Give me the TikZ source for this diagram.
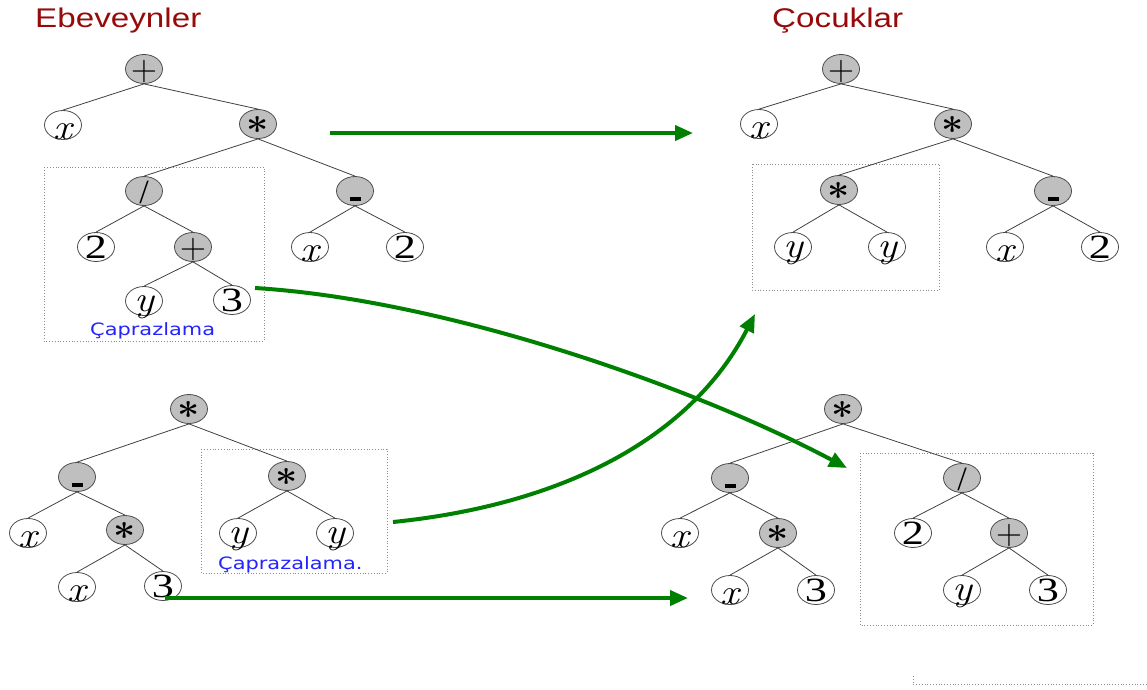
\documentclass[tikz,border=0pt]{standalone}
\usepackage{fontspec}
\usetikzlibrary{shapes.geometric,arrows.meta}
\newfontfamily\headfont{Liberation Sans}
\newfontfamily\notefont{DejaVu Sans}
\newfontfamily\digitfont{Liberation Serif}
\definecolor{headred}{RGB}{150,10,10}
\definecolor{noteblue}{RGB}{35,35,255}
\definecolor{arrowgreen}{RGB}{0,128,0}

% symbol placed inside a node without changing its size
\newcommand\symb[3]{\makebox[0pt]{\raisebox{#1}[0pt][0pt]{\scalebox{#2}[1]{#3}}}}
\newcommand\lx{\symb{-14pt}{1.15}{\fontsize{36}{36}\selectfont\itshape x}}
\newcommand\ly{\symb{-10.5pt}{1.15}{\fontsize{36}{36}\selectfont\itshape y}}
\newcommand\ltwo{\symb{-11.5pt}{1.3}{\fontsize{34}{34}\digitfont 2}}
\newcommand\lthree{\symb{-11.5pt}{1.3}{\fontsize{34}{34}\digitfont 3}}
\newcommand\opadd{\symb{-11pt}{1}{\fontsize{36}{36}\selectfont +}}
\newcommand\opmul{\symb{-19pt}{1.1}{\fontsize{36}{36}\selectfont\bfseries *}}
\newcommand\opdiv{\symb{-12pt}{1}{\fontsize{34}{34}\digitfont /}}
\newcommand\opsub{\symb{0pt}{1}{\rule[-10pt]{11pt}{4.5pt}}}

\tikzset{
  opnode/.style={ellipse, draw=black!70, fill=black!25, line width=0.8pt,
    minimum width=37pt, minimum height=29pt, inner sep=0pt},
  leafnode/.style={ellipse, draw=black!70, fill=white, line width=0.8pt,
    minimum width=37pt, minimum height=29pt, inner sep=0pt},
  link/.style={draw=black!75, line width=0.8pt},
  pickbox/.style={draw=black!45, dotted, line width=0.8pt},
  xover/.style={draw=arrowgreen, line width=4pt,
    -{Triangle[length=18pt,width=15pt]}},
  headline/.style={anchor=base west, text=headred, inner sep=0pt,
    font=\headfont\fontsize{27}{27}\selectfont},
  noteline/.style={anchor=base west, text=noteblue, inner sep=0pt,
    font=\notefont\fontsize{17}{17}\selectfont},
}

\begin{document}
\begin{tikzpicture}[x=1pt,y=-1pt]
\useasboundingbox (0,0) rectangle (1147,689);

% headings
\node[headline] (h1) at (35,27) {\scalebox{1.23}[1]{Ebeveynler}};
\node[headline] (h2) at (772,27) {\scalebox{1.23}[1]{Çocuklar}};

% selected subtrees
\draw[pickbox] (44,167) rectangle (264,341);
\draw[pickbox] (201,449) rectangle (387,573);
\draw[pickbox] (752,164) rectangle (939,290);
\draw[pickbox] (860,453) rectangle (1093,625);
\draw[pickbox] (913,676) -- (913,684) -- (1147,684);

\node[noteline] (n1) at (90,335) {\scalebox{1.23}[1]{Çaprazlama}};
\node[noteline] (n2) at (218,569) {\scalebox{1.23}[1]{Çaprazalama.}};

% first parent
\node[opnode]   (a0)  at (144,69)  {\opadd};
\node[leafnode] (a1)  at (63,125)  {\lx};
\node[opnode]   (a2)  at (258,124) {\opmul};
\node[opnode]   (a3)  at (144,191) {\opdiv};
\node[opnode]   (a4)  at (355,191) {\opsub};
\node[leafnode] (a5)  at (96,247)  {\ltwo};
\node[opnode]   (a6)  at (193,247) {\opadd};
\node[leafnode] (a7)  at (310,247) {\lx};
\node[leafnode] (a8)  at (405,247) {\ltwo};
\node[leafnode] (a9)  at (144,301) {\ly};
\node[leafnode] (a10) at (232,300) {\lthree};
\foreach \p/\c in {a0/a1,a0/a2,a2/a3,a2/a4,a3/a5,a3/a6,a4/a7,a4/a8,a6/a9,a6/a10}
  \draw[link] (\p.south) -- (\c.north);

% second parent
\node[opnode]   (b0) at (189,409) {\opmul};
\node[opnode]   (b1) at (77,477)  {\opsub};
\node[opnode]   (b2) at (287,476) {\opmul};
\node[leafnode] (b3) at (28,533)  {\lx};
\node[opnode]   (b4) at (125,530) {\opmul};
\node[leafnode] (b5) at (238,533) {\ly};
\node[leafnode] (b6) at (335,533) {\ly};
\node[leafnode] (b7) at (77,587)  {\lx};
\node[leafnode] (b8) at (163,586) {\lthree};
\foreach \p/\c in {b0/b1,b0/b2,b1/b3,b1/b4,b2/b5,b2/b6,b4/b7,b4/b8}
  \draw[link] (\p.south) -- (\c.north);

% first child
\node[opnode]   (c0) at (841,69)   {\opadd};
\node[leafnode] (c1) at (759,124)  {\lx};
\node[opnode]   (c2) at (953,124)  {\opmul};
\node[opnode]   (c3) at (839,190)  {\opmul};
\node[opnode]   (c4) at (1053,191) {\opsub};
\node[leafnode] (c5) at (793,247)  {\ly};
\node[leafnode] (c6) at (887,247)  {\ly};
\node[leafnode] (c7) at (1005,247) {\lx};
\node[leafnode] (c8) at (1100,247) {\ltwo};
\foreach \p/\c in {c0/c1,c0/c2,c2/c3,c2/c4,c3/c5,c3/c6,c4/c7,c4/c8}
  \draw[link] (\p.south) -- (\c.north);

% second child
\node[opnode]   (d0)  at (843,409)  {\opmul};
\node[opnode]   (d1)  at (730,478)  {\opsub};
\node[opnode]   (d2)  at (962,478)  {\opdiv};
\node[leafnode] (d3)  at (680,533)  {\lx};
\node[opnode]   (d4)  at (778,533)  {\opmul};
\node[leafnode] (d5)  at (913,533)  {\ltwo};
\node[opnode]   (d6)  at (1009,533) {\opadd};
\node[leafnode] (d7)  at (730,590)  {\lx};
\node[leafnode] (d8)  at (816,590)  {\lthree};
\node[leafnode] (d9)  at (962,590)  {\ly};
\node[leafnode] (d10) at (1048,590) {\lthree};
\foreach \p/\c in {d0/d1,d0/d2,d1/d3,d1/d4,d2/d5,d2/d6,d4/d7,d4/d8,d6/d9,d6/d10}
  \draw[link] (\p.south) -- (\c.north);

% crossover arrows
\coordinate (s1) at (330,133);
\coordinate (e1) at (693,133);
\coordinate (s2) at (255,288);
\coordinate (e2) at (847,468);
\coordinate (s3) at (393,522);
\coordinate (e3) at (755,314);
\coordinate (s4) at (165,598);
\coordinate (e4) at (688,598);
\draw[xover] (s1) -- (e1);
\draw[xover] (s2) .. controls (450,300) and (700,390) .. (e2);
\draw[xover] (s3) .. controls (560,505) and (690,440) .. (e3);
\draw[xover] (s4) -- (e4);
\end{tikzpicture}
\end{document}
